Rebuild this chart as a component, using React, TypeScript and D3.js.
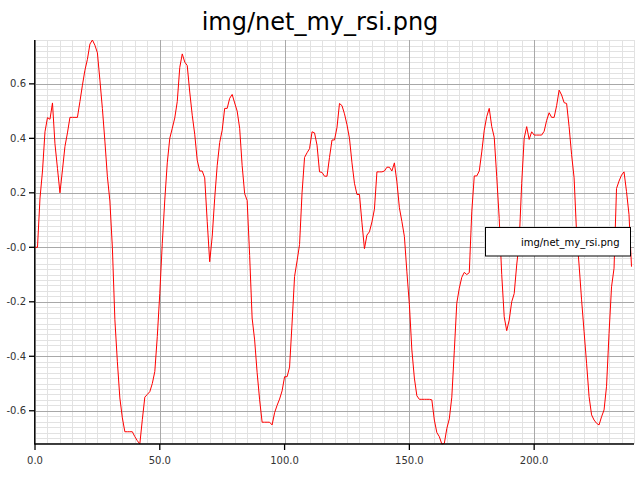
import React from "react";
import * as d3 from "d3";

const TITLE = "img/net_my_rsi.png";
const LEGEND_LABEL = "img/net_my_rsi.png";

// RSI values, one per step x = 0..239
const rsiValues: number[] = [
  0.0, 0.0, 0.18, 0.28, 0.424, 0.476, 0.47, 0.53, 0.38, 0.29,
  0.2, 0.284, 0.37, 0.42, 0.477, 0.477, 0.477, 0.477, 0.535, 0.595,
  0.65, 0.69, 0.746, 0.761, 0.742, 0.714, 0.614, 0.51, 0.39, 0.26,
  0.17, 0.0, -0.265, -0.42, -0.553, -0.626, -0.677, -0.677, -0.677, -0.677,
  -0.695, -0.71, -0.722, -0.633, -0.55, -0.54, -0.53, -0.5, -0.456, -0.328,
  -0.169, 0.015, 0.174, 0.31, 0.4, 0.437, 0.475, 0.535, 0.66, 0.71,
  0.68, 0.667, 0.57, 0.485, 0.415, 0.32, 0.28, 0.28, 0.255, 0.095,
  -0.053, 0.04, 0.18, 0.3, 0.385, 0.43, 0.51, 0.51, 0.547, 0.561,
  0.53, 0.5, 0.437, 0.3, 0.197, 0.172, -0.03, -0.26, -0.34, -0.46,
  -0.56, -0.642, -0.642, -0.642, -0.642, -0.652, -0.607, -0.58, -0.557, -0.527,
  -0.475, -0.475, -0.44, -0.278, -0.107, -0.05, 0.01, 0.2, 0.33, 0.347,
  0.362, 0.424, 0.42, 0.375, 0.277, 0.275, 0.261, 0.261, 0.33, 0.394,
  0.394, 0.44, 0.528, 0.52, 0.49, 0.45, 0.4, 0.31, 0.235, 0.194,
  0.194, 0.09, -0.005, 0.045, 0.057, 0.093, 0.14, 0.277, 0.277, 0.277,
  0.28, 0.294, 0.294, 0.28, 0.31, 0.24, 0.145, 0.095, 0.04, -0.09,
  -0.21, -0.377, -0.48, -0.545, -0.558, -0.558, -0.558, -0.558, -0.558, -0.56,
  -0.634, -0.68, -0.695, -0.722, -0.72, -0.665, -0.63, -0.55, -0.38, -0.205,
  -0.15, -0.11, -0.092, -0.1, -0.093, 0.13, 0.262, 0.262, 0.28, 0.35,
  0.43, 0.48, 0.51, 0.443, 0.404, 0.26, 0.105, -0.1, -0.255, -0.306,
  -0.267, -0.2, -0.17, -0.065, 0.02, 0.235, 0.4, 0.443, 0.396, 0.424,
  0.412, 0.412, 0.412, 0.412, 0.426, 0.466, 0.494, 0.477, 0.477, 0.52,
  0.577, 0.559, 0.531, 0.528, 0.443, 0.34, 0.255, 0.05, -0.065, -0.193,
  -0.31, -0.426, -0.548, -0.615, -0.634, -0.646, -0.652, -0.622, -0.597, -0.51,
  -0.316, -0.145, -0.077, 0.216, 0.243, 0.265, 0.277, 0.205, 0.12, -0.071,
];

const xTickValues = [0, 50, 100, 150, 200];
const xTickLabels = ["0.0", "50.0", "100.0", "150.0", "200.0"];
const yTickValues = [-0.6, -0.4, -0.2, 0, 0.2, 0.4, 0.6];
const yTickLabels = ["-0.6", "-0.4", "-0.2", "-0.0", "0.2", "0.4", "0.6"];
const xDomain = [0, 240];

const W = 640;
const H = 480;
const left = 35;
const right = 634;
const top = 40;
const bottom = 444;
const FONT = "DejaVu Sans, sans-serif";

export default function App() {
  const data = rsiValues.map((v, i) => ({ x: i, y: v }));
  const x = d3.scaleLinear().domain(xDomain).range([left, right]);
  const ext = d3.extent(rsiValues) as [number, number];
  const y = d3.scaleLinear().domain(ext).range([bottom, top]);

  const line = d3
    .line<{ x: number; y: number }>()
    .x((d) => x(d.x))
    .y((d) => y(d.y));

  const xMinor = d3.range(0, 240.001, 5);
  const yMinor: number[] = [];
  for (let k = Math.ceil(ext[0] / 0.02); k <= Math.floor(ext[1] / 0.02); k++) yMinor.push(k * 0.02);

  return (
    <svg
      width={W}
      height={H}
      style={{ position: "absolute", left: 0, top: 0, background: "#fff" }}
    >
      <rect x={0} y={0} width={W} height={H} fill="#fff" />
      <g stroke="#e2e2e2" strokeWidth={1}>
        {xMinor.map((v) => (
          <line key={"xm" + v} x1={Math.round(x(v)) + 0.5} x2={Math.round(x(v)) + 0.5} y1={top} y2={bottom} />
        ))}
        {yMinor.map((v) => (
          <line key={"ym" + v} x1={left} x2={right} y1={Math.round(y(v)) + 0.5} y2={Math.round(y(v)) + 0.5} />
        ))}
      </g>
      <g stroke="#a8a8a8" strokeWidth={1}>
        {xTickValues.map((v) => (
          <line key={"xg" + v} x1={Math.round(x(v)) + 0.5} x2={Math.round(x(v)) + 0.5} y1={top} y2={bottom} />
        ))}
        {yTickValues.map((v) => (
          <line key={"yg" + v} x1={left} x2={right} y1={Math.round(y(v)) + 0.5} y2={Math.round(y(v)) + 0.5} />
        ))}
      </g>
      <path d={line(data) || ""} fill="none" stroke="#ff0000" strokeWidth={1} />
      <g stroke="#000" strokeWidth={1.3}>
        <line x1={left - 0.3} x2={left - 0.3} y1={top} y2={bottom + 0.5} />
        <line x1={left - 0.3} x2={right} y1={bottom} y2={bottom} />
        {xTickValues.map((v) => (
          <line key={"xt" + v} x1={x(v)} x2={x(v)} y1={bottom} y2={bottom + 6} />
        ))}
        {yTickValues.map((v) => (
          <line key={"yt" + v} x1={left - 6} x2={left} y1={y(v)} y2={y(v)} />
        ))}
      </g>
      <g fontFamily={FONT} fontSize={10} fill="#333">
        {xTickValues.map((v, i) => (
          <text key={"xl" + v} x={x(v)} y={bottom + 20} textAnchor="middle">
            {xTickLabels[i]}
          </text>
        ))}
        {yTickValues.map((v, i) => (
          <text key={"yl" + v} x={left - 9} y={y(v) + 3.6} textAnchor="end">
            {yTickLabels[i]}
          </text>
        ))}
      </g>
      <text x={W / 2} y={30} textAnchor="middle" fontFamily={FONT} fontSize={24} fill="#000">
        {TITLE}
      </text>
      <rect x={485.5} y={227.5} width={145} height={28.5} fill="#fff" stroke="#000" strokeWidth={1} />
      <text x={619.5} y={245.5} textAnchor="end" fontFamily={FONT} fontSize={10} fill="#000">
        {LEGEND_LABEL}
      </text>
    </svg>
  );
}
